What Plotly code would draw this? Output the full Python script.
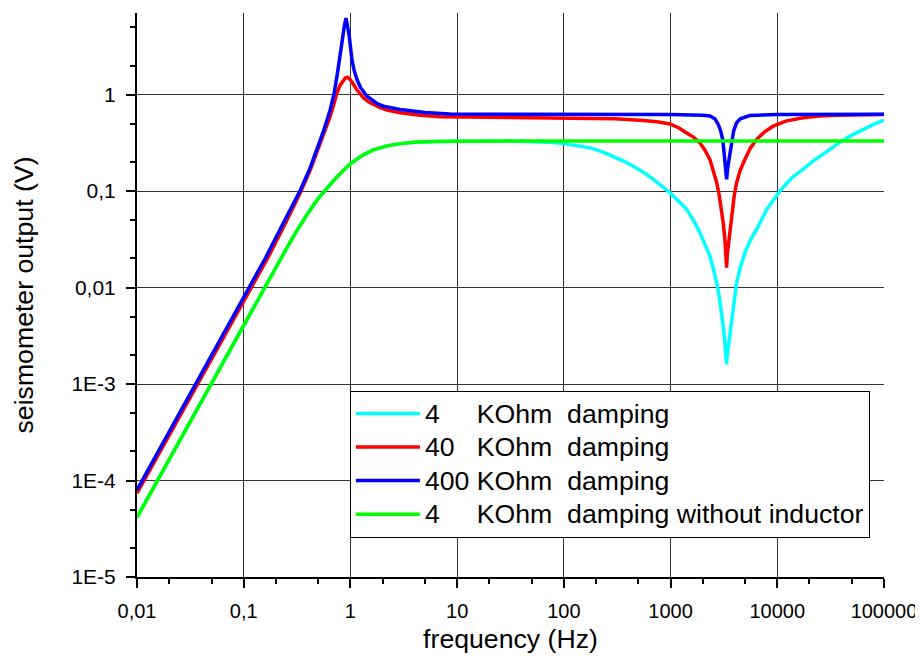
import math
import plotly.graph_objects as go

# ---- data ----
freq_cyan = [0.01, 0.1, 0.2, 0.25, 0.3, 0.4, 0.5, 0.6, 0.75, 0.9, 1.0, 1.2, 1.33, 1.64, 2.2, 2.93, 4.0, 6.0, 10, 20, 40, 60,
             80, 100, 130, 176, 230, 291, 360, 448, 560, 689, 830, 988, 1200, 1416, 1650, 1885, 2100, 2340, 2520,
             2705, 2860, 3012, 3120, 3228, 3300, 3350, 3400, 3524, 3650, 3784, 3950, 4159, 4500, 4966, 5600, 6393,
             8000, 10570, 13500, 17490, 21500, 26900, 33000, 40000, 50000, 63700, 80000, 100000]
volt_cyan = [4.15e-5, 0.00415, 0.0162, 0.0250, 0.0355, 0.059, 0.084, 0.107, 0.141, 0.172, 0.191, 0.222, 0.238, 0.267, 0.294, 0.310, 0.320, 0.326, 0.329, 0.330, 0.329, 0.325,
             0.318, 0.31, 0.297, 0.28, 0.255, 0.23, 0.205, 0.181, 0.156, 0.132, 0.112, 0.096, 0.078, 0.0645, 0.049, 0.037, 0.028, 0.0212, 0.0155,
             0.01125, 0.008, 0.0055, 0.0039, 0.0027, 0.002, 0.0016, 0.002, 0.0027, 0.0039, 0.0055, 0.008, 0.01125, 0.016, 0.023, 0.031, 0.040,
             0.065, 0.10, 0.135, 0.170, 0.203, 0.241, 0.283, 0.329, 0.38, 0.434, 0.49, 0.542]

freq_red = [0.01, 0.1, 0.171, 0.25, 0.339, 0.42, 0.485, 0.56, 0.647, 0.70, 0.748, 0.80, 0.861, 0.90, 0.935, 1.0, 1.07,
            1.15, 1.33, 1.5, 1.90, 2.2, 2.93, 4.5, 6.9, 30, 100, 300, 516, 750, 988, 1200, 1416, 1650, 1885, 2100,
            2340, 2520, 2705, 2860, 3012, 3120, 3228, 3300, 3350, 3400, 3524, 3650, 3784, 3950, 4159, 4500, 4966,
            5600, 6393, 7600, 9165, 12000, 17490, 25000, 35900, 100000]
volt_red = [7.4e-5, 0.0074, 0.021, 0.048, 0.096, 0.165, 0.249, 0.38, 0.597, 0.80, 1.04, 1.25, 1.43, 1.49, 1.51, 1.42, 1.27,
            1.12, 0.92, 0.83, 0.73, 0.69, 0.647, 0.61, 0.59, 0.58, 0.574, 0.56, 0.542, 0.522, 0.495, 0.45, 0.40, 0.36, 0.316, 0.265,
            0.212, 0.165, 0.122, 0.09, 0.0645, 0.046, 0.0316, 0.022, 0.0161, 0.022, 0.0316, 0.046, 0.0645, 0.09, 0.122, 0.165, 0.212,
            0.28, 0.342, 0.41, 0.47, 0.53, 0.574, 0.60, 0.61, 0.62]

freq_blue = [0.01, 0.1, 0.159, 0.25, 0.339, 0.42, 0.485, 0.56, 0.647, 0.70, 0.748, 0.79, 0.832, 0.875, 0.908, 0.934,
             0.976, 1.033, 1.08, 1.151, 1.25, 1.43, 1.6, 1.8, 2.04, 2.4, 2.93, 5.0, 8.6, 30, 100, 300, 988, 2000,
             2340, 2600, 2800, 2950, 3077, 3150, 3228, 3280, 3350, 3420, 3524, 3620, 3733, 3900, 4159, 4500, 5537,
             7000, 10000, 100000]
volt_blue = [8.0e-5, 0.0080, 0.0200, 0.053, 0.102, 0.175, 0.27, 0.42, 0.70, 1.0, 1.55, 2.2, 3.43, 5.1, 6.2, 5.3,
             4.0, 2.3, 1.8, 1.43, 1.17, 0.96, 0.87, 0.80, 0.757, 0.73, 0.70, 0.65, 0.63, 0.625, 0.625, 0.625, 0.62, 0.61,
             0.60, 0.56, 0.49, 0.42, 0.342, 0.27, 0.212, 0.17, 0.132, 0.17, 0.212, 0.27, 0.342, 0.42, 0.51, 0.56, 0.606,
             0.615, 0.62, 0.625]

freq_green = [0.01, 0.1, 0.2, 0.25, 0.3, 0.4, 0.5, 0.6, 0.75, 0.9, 1.0, 1.2, 1.33, 1.64, 2.2, 2.93, 4.0, 6.0, 10, 100, 100000]
volt_green = [4.15e-5, 0.00415, 0.0162, 0.0250, 0.0355, 0.059, 0.084, 0.107, 0.141, 0.172, 0.191, 0.222, 0.238, 0.267, 0.294, 0.310, 0.320, 0.326, 0.329, 0.331, 0.331]

names = ["4\u00a0\u00a0\u00a0\u00a0\u00a0KOhm\u00a0\u00a0damping",
         "40\u00a0\u00a0\u00a0KOhm\u00a0\u00a0damping",
         "400 KOhm\u00a0\u00a0damping",
         "4\u00a0\u00a0\u00a0\u00a0\u00a0KOhm\u00a0\u00a0damping without inductor"]
colors = ["#00FFFF", "#FF0000", "#0000FF", "#00FF00"]

x_tickvals = [0.01, 0.1, 1, 10, 100, 1000, 10000, 100000]
x_ticktext = ["0,01", "0,1", "1", "10", "100", "1000", "10000", "100000"]
y_tickvals = [1e-5, 1e-4, 1e-3, 0.01, 0.1, 1]
y_ticktext = ["1E-5", "1E-4", "1E-3", "0,01", "0,1", "1"]
y_top = 7

FONT = "Arial, 'Liberation Sans', sans-serif"
BIG = 26.67

fig = go.Figure()
for fx, vy, nm, col in zip([freq_cyan, freq_red, freq_blue, freq_green],
                           [volt_cyan, volt_red, volt_blue, volt_green], names, colors):
    fig.add_trace(go.Scatter(x=fx, y=vy, mode="lines",
                             name='<span style="font-size:%.2fpx">%s</span>' % (BIG, nm),
                             line=dict(color=col, width=3.5)))

axis_common = dict(
    type="log", showline=True, linecolor="black", linewidth=2, mirror=False,
    ticks="outside", ticklen=9, tickwidth=2, tickcolor="black",
    showgrid=True, gridcolor="#333333", gridwidth=1, zeroline=False, automargin=False,
    minor=dict(ticks="outside", ticklen=5, tickwidth=1.5, tickcolor="black", showgrid=False),
)

# the page body has an 8px margin, so the figure is sized to fit inside it without scrollbars
fig.update_layout(
    width=913, height=646,
    paper_bgcolor="white", plot_bgcolor="white",
    margin=dict(l=129, r=37, t=5, b=77),
    font=dict(family=FONT, color="black"),
    xaxis=dict(axis_common, range=[-2, 5], tickvals=x_tickvals, ticktext=x_ticktext,
               tickfont=dict(family=FONT, size=20, color="black"),
               title=dict(text="frequency (Hz)", font=dict(family=FONT, size=BIG), standoff=16),
               ticklabelstandoff=6),
    yaxis=dict(axis_common, range=[-5, math.log10(y_top)], tickvals=y_tickvals, ticktext=y_ticktext,
               tickfont=dict(family=FONT, size=21, color="black"),
               title=dict(text="seismometer output (V)", font=dict(family=FONT, size=BIG), standoff=30),
               ticklabelstandoff=6),
    legend=dict(x=0.285, y=0.20, xanchor="left", yanchor="middle",
                bgcolor="white", bordercolor="black", borderwidth=1,
                font=dict(family=FONT, size=23.5, color="black"),
                itemwidth=64, tracegroupgap=0),
    showlegend=True,
)

fig.write_html("out.html")
